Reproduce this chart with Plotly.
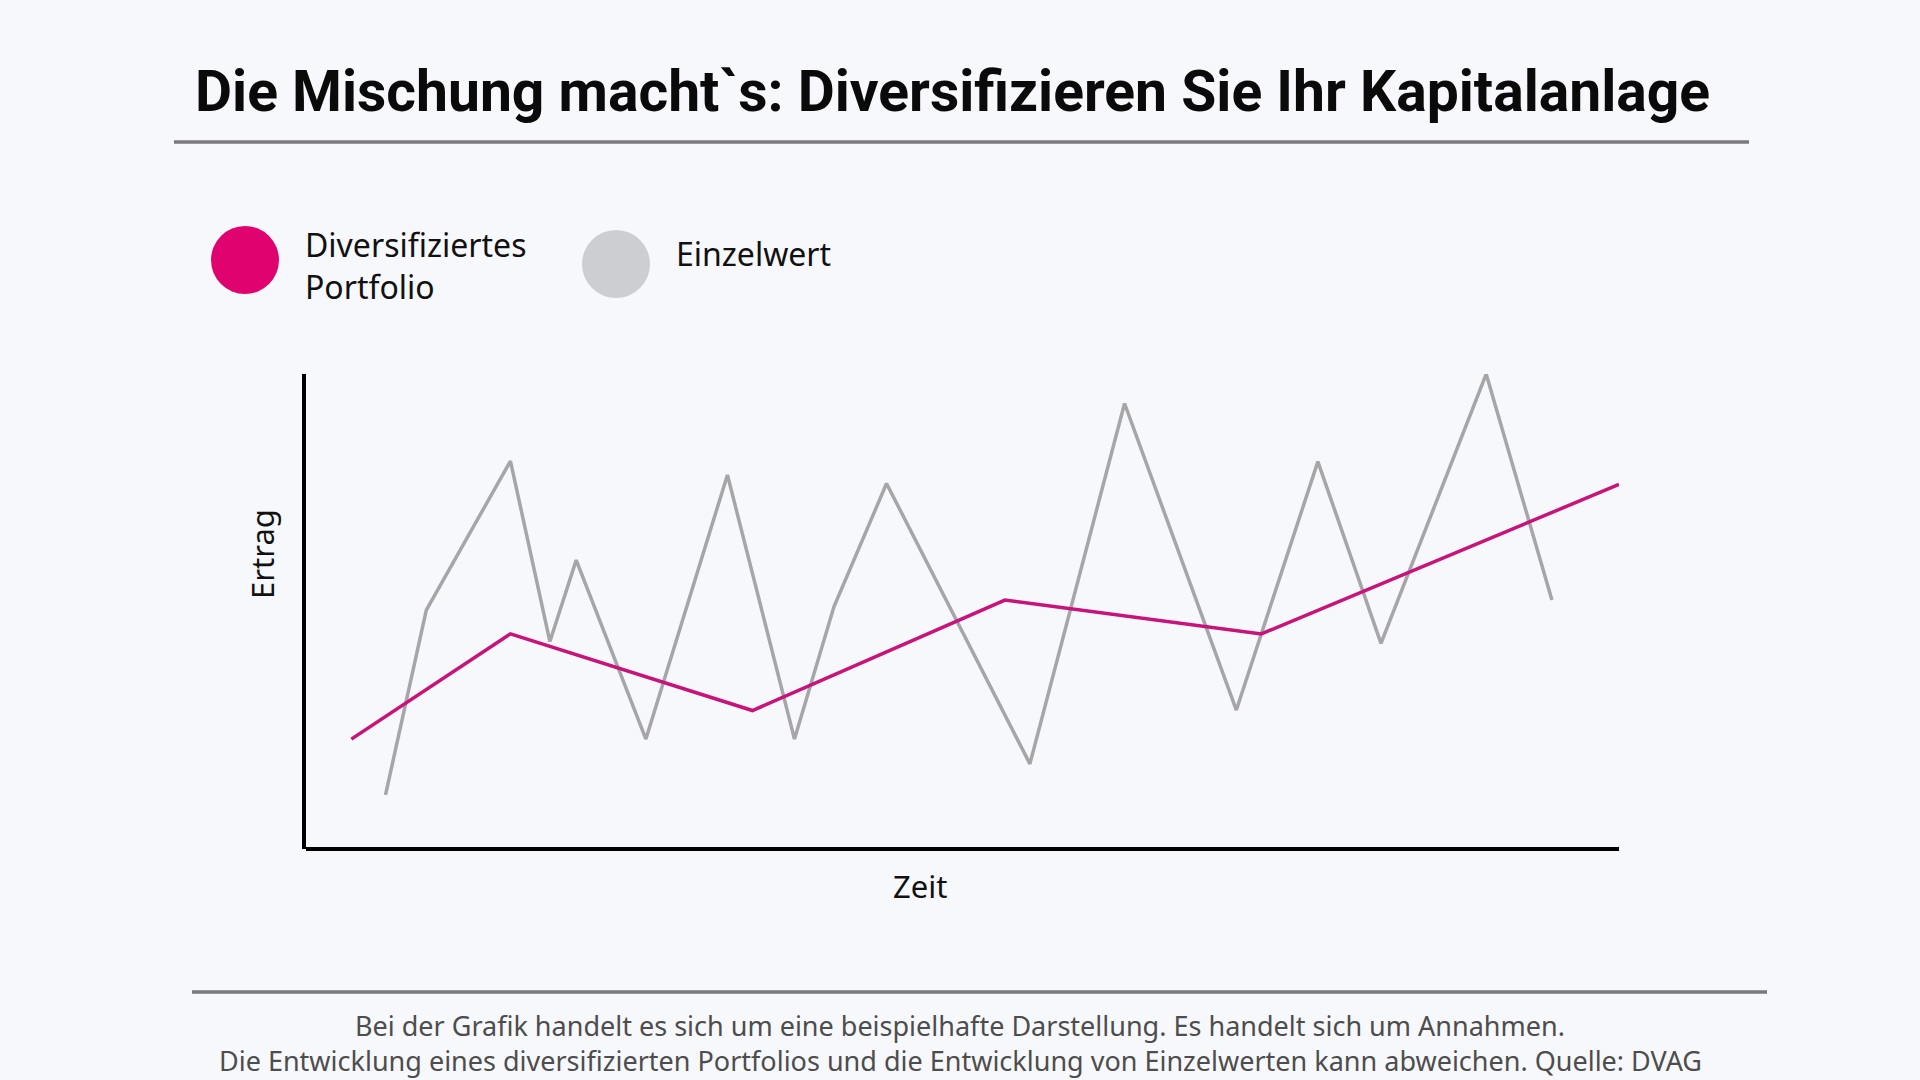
import plotly.graph_objects as go

# Zeitachse in % der Achsenlänge, Ertrag in % der Achsenhöhe
portfolio_x = [3.6, 15.7, 34.1, 53.3, 72.8, 100.0]
portfolio_y = [23.3, 45.4, 29.3, 52.5, 45.4, 76.8]

einzel_x = [6.2, 9.3, 15.7, 18.7, 20.7, 26.0, 32.2, 37.3, 40.3, 44.3,
            55.2, 62.4, 70.9, 77.1, 81.9, 89.9, 94.9]
einzel_y = [11.6, 50.4, 81.7, 43.8, 60.9, 23.3, 78.8, 23.3, 51.1, 77.0,
            18.1, 93.8, 29.4, 81.6, 43.4, 100.0, 52.5]

series_names = ["Diversifiziertes<br>Portfolio", "Einzelwert"]
title_text = "Die Mischung macht`s: Diversifizieren Sie Ihr Kapitalanlage"
footer_lines = [
    "Bei der Grafik handelt es sich um eine beispielhafte Darstellung. Es handelt sich um Annahmen.",
    "Die Entwicklung eines diversifizierten Portfolios und die Entwicklung von Einzelwerten kann abweichen. Quelle: DVAG",
]

W, H = 1920, 1080
BG = "#F7F8FC"
PINK_LINE = "#C8137A"
PINK_DOT = "#E0036F"
GRAY_LINE = "#A6A6A9"
GRAY_DOT = "#CDCED1"
FONT = "Noto Sans"


def px(x):
    return x / W


def py(y):
    return 1 - y / H


fig = go.Figure()
fig.add_trace(go.Scatter(x=einzel_x, y=einzel_y, mode="lines", name="Einzelwert",
                         line=dict(color=GRAY_LINE, width=3.5)))
fig.add_trace(go.Scatter(x=portfolio_x, y=portfolio_y, mode="lines", name="Diversifiziertes Portfolio",
                         line=dict(color=PINK_LINE, width=3.5)))

shapes = []
# Trennlinien oben und unten
shapes.append(dict(type="line", xref="paper", yref="paper", x0=px(174), x1=px(1749),
                   y0=py(142), y1=py(142), line=dict(color="#7A7A7E", width=3.5)))
shapes.append(dict(type="line", xref="paper", yref="paper", x0=px(192), x1=px(1767),
                   y0=py(992), y1=py(992), line=dict(color="#7A7A7E", width=3.5)))
# Achsenlinien (schwarz)
shapes.append(dict(type="line", xref="paper", yref="paper", x0=px(304), x1=px(304),
                   y0=py(849), y1=py(374), line=dict(color="black", width=4)))
shapes.append(dict(type="line", xref="paper", yref="paper", x0=px(306), x1=px(1619),
                   y0=py(849), y1=py(849), line=dict(color="black", width=4)))
# Legendenpunkte
for cx, cy, col in [(245, 260, PINK_DOT), (616, 264, GRAY_DOT)]:
    shapes.append(dict(type="circle", xref="paper", yref="paper",
                       x0=px(cx - 34), x1=px(cx + 34), y0=py(cy + 34), y1=py(cy - 34),
                       fillcolor=col, line=dict(width=0)))

annotations = [
    dict(text="<b>" + title_text + "</b>", x=px(952), y=py(91), xref="paper", yref="paper",
         showarrow=False, xanchor="center", yanchor="middle",
         font=dict(family="Roboto", size=57, color="#0A0A0A")),
    dict(text=series_names[0], x=px(303), y=py(266), xref="paper", yref="paper",
         showarrow=False, xanchor="left", yanchor="middle", align="left",
         font=dict(family=FONT, size=32, color="#111111")),
    dict(text=series_names[1], x=px(674), y=py(253), xref="paper", yref="paper",
         showarrow=False, xanchor="left", yanchor="middle", align="left",
         font=dict(family=FONT, size=32, color="#111111")),
    dict(text="Ertrag", x=px(262), y=py(554), xref="paper", yref="paper", textangle=-90,
         showarrow=False, xanchor="center", yanchor="middle",
         font=dict(family=FONT, size=31, color="#111111")),
    dict(text="Zeit", x=px(920), y=py(886), xref="paper", yref="paper",
         showarrow=False, xanchor="center", yanchor="middle",
         font=dict(family=FONT, size=31, color="#111111")),
]
for i, line in enumerate(footer_lines):
    annotations.append(dict(text=line, x=px(960), y=py(1025 + i * 35), xref="paper", yref="paper",
                            showarrow=False, xanchor="center", yanchor="middle",
                            font=dict(family=FONT, size=27, color="#4D4D4D")))

fig.update_layout(
    width=W, height=H, autosize=False,
    margin=dict(l=0, r=0, t=0, b=0),
    paper_bgcolor=BG, plot_bgcolor=BG,
    showlegend=False,
    shapes=shapes, annotations=annotations,
    xaxis=dict(domain=[px(304), px(1619)], range=[0, 100], showline=False,
               showgrid=False, zeroline=False, showticklabels=False, ticks=""),
    yaxis=dict(domain=[py(850), py(374)], range=[0, 100], showline=False,
               showgrid=False, zeroline=False, showticklabels=False, ticks=""),
)

fig.write_html("out.html", config={"displayModeBar": False},
               post_script="document.body.style.margin='0';")
